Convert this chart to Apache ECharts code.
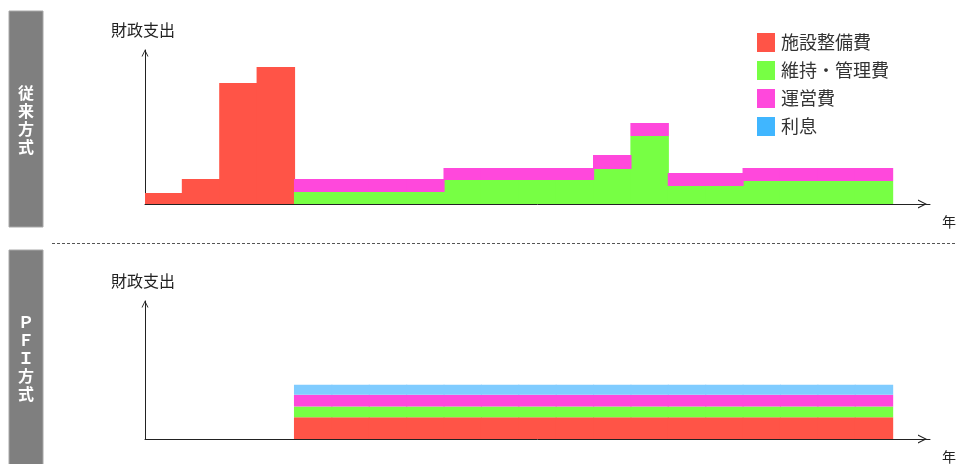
<!DOCTYPE html>
<html>
<head>
<meta charset="utf-8">
<script src="https://cdn.jsdelivr.net/npm/echarts@6/dist/echarts.min.js"></script>
<style>
html,body{margin:0;padding:0;background:#fff;}
#main{width:957px;height:464px;}
</style>
</head>
<body>
<div id="main"></div>
<script>
// 年（最後の1つは空き）
var years = ['1','2','3','4','5','6','7','8','9','10','11','12','13','14','15','16','17','18','19','20','21'];
var seriesNames = ['施設整備費', '維持・管理費', '運営費', '利息'];
// 従来方式
var convFacility = [11, 25, 121, 137, null, null, null, null, null, null, null, null, null, null, null, null, null, null, null, null, null];
var convMaint    = [null, null, null, null, 12, 12, 12, 12, 24, 24, 24, 24, 35, 68, 18, 18, 23, 23, 23, 23, null];
var convOper     = [null, null, null, null, 13, 13, 13, 13, 12, 12, 12, 12, 14, 13, 13, 13, 13, 13, 13, 13, null];
// PFI方式
var pfiFacility  = [null, null, null, null, 22, 22, 22, 22, 22, 22, 22, 22, 22, 22, 22, 22, 22, 22, 22, 22, null];
var pfiMaint     = [null, null, null, null, 11, 11, 11, 11, 11, 11, 11, 11, 11, 11, 11, 11, 11, 11, 11, 11, null];
var pfiOper      = [null, null, null, null, 12, 12, 12, 12, 12, 12, 12, 12, 12, 12, 12, 12, 12, 12, 12, 12, null];
var pfiInterest  = [null, null, null, null, 10, 10, 10, 10, 10, 10, 10, 10, 10, 10, 10, 10, 10, 10, 10, 10, null];

var colors = ['#FF5447', '#77FF44', '#FF48DC', '#80CCFF'];
var font = '"Noto Sans CJK JP", "Noto Sans", sans-serif';
var arrowUp = 'path://M0,10 L5,0 L10,10 L8.6,10 L5,2.6 L1.4,10 Z';

function xAxisOf(grid) {
    return {
        type: 'category', gridIndex: grid, data: years,
        axisLine: {lineStyle: {color: '#222', width: 1}, symbol: ['none', arrowUp], symbolSize: [10, 9], symbolOffset: [0, -7.5]},
        axisTick: {show: false}, axisLabel: {show: false},
        name: '年', nameLocation: 'end', nameGap: 12,
        nameTextStyle: {color: '#222', fontSize: 14, fontFamily: font, verticalAlign: 'top', padding: [11, 0, 0, 0]}
    };
}
function yAxisOf(grid, max) {
    return {
        type: 'value', gridIndex: grid, min: 0, max: max,
        axisLine: {show: true, lineStyle: {color: '#222', width: 1}, symbol: ['none', arrowUp], symbolSize: [10, 7], symbolOffset: [0, -3]},
        axisTick: {show: false}, axisLabel: {show: false}, splitLine: {show: false},
        name: '財政支出', nameLocation: 'end', nameGap: 12,
        nameTextStyle: {color: '#222', fontSize: 16, fontFamily: font, padding: [0, 4, 0, 0]}
    };
}
function bar(name, grid, data, color) {
    return {
        name: name, type: 'bar', stack: 'g' + grid, xAxisIndex: grid, yAxisIndex: grid,
        barCategoryGap: '0%', barWidth: '103%', data: data,
        itemStyle: {color: color},
        emphasis: {disabled: true}
    };
}

var chart = echarts.init(document.getElementById('main'));
chart.setOption({
    animation: false,
    textStyle: {fontFamily: font},
    grid: [
        {left: 145, right: 26, top: 50, bottom: 260},
        {left: 145, right: 26, top: 301, bottom: 23}
    ],
    legend: {
        orient: 'vertical', left: 752, top: 28,
        itemWidth: 18, itemHeight: 19, itemGap: 9,
        icon: 'rect',
        textStyle: {color: '#333', fontSize: 18, fontFamily: font, padding: [0, 0, 0, 1]},
        data: [seriesNames[0], seriesNames[1], seriesNames[2],
            {name: seriesNames[3], itemStyle: {color: '#40B6FF', borderWidth: 0}}]
    },
    xAxis: [xAxisOf(0), xAxisOf(1)],
    yAxis: [yAxisOf(0, 154), yAxisOf(1, 140)],
    series: [
        bar(seriesNames[0], 0, convFacility, colors[0]),
        bar(seriesNames[1], 0, convMaint, colors[1]),
        bar(seriesNames[2], 0, convOper, colors[2]),
        bar(seriesNames[0], 1, pfiFacility, colors[0]),
        bar(seriesNames[1], 1, pfiMaint, colors[1]),
        bar(seriesNames[2], 1, pfiOper, colors[2]),
        bar(seriesNames[3], 1, pfiInterest, colors[3])
    ],
    graphic: [
        //左の見出し
        {type: 'rect', shape: {x: 9, y: 11, width: 34, height: 216}, style: {fill: '#7F7F7F', stroke: '#A8A8A8', lineWidth: 1}},
        {type: 'text', x: 26, y: 120, style: {text: '従\n来\n方\n式', fill: '#fff', font: 'bold 16px ' + font, lineHeight: 18, align: 'center', verticalAlign: 'middle'}},
        {type: 'rect', shape: {x: 9, y: 250, width: 34, height: 220}, style: {fill: '#7F7F7F', stroke: '#A8A8A8', lineWidth: 1}},
        {type: 'text', x: 26, y: 358, style: {text: 'Ｐ\nＦ\nＩ\n方\n式', fill: '#fff', font: 'bold 16px ' + font, lineHeight: 18, align: 'center', verticalAlign: 'middle'}},
        //区切り線
        {type: 'line', shape: {x1: 52, y1: 243.5, x2: 957, y2: 243.5}, style: {stroke: '#555', lineWidth: 1, lineDash: [3, 2]}}
    ]
});
</script>
</body>
</html>
